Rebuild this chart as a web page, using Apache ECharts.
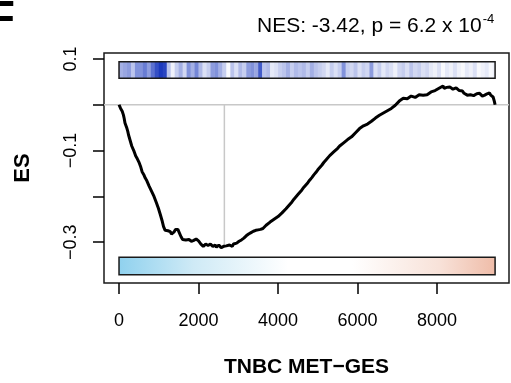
<!DOCTYPE html>
<html>
<head>
<meta charset="utf-8">
<script src="https://cdn.jsdelivr.net/npm/echarts@6/dist/echarts.min.js"></script>
<style>
  html, body { margin: 0; padding: 0; background: #fff; }
  #chart { width: 511px; height: 383px; }
</style>
</head>
<body>
<div id="chart"></div>
<script>
// running enrichment score: [rank in list, ES]
const esCurve = [
  [0, 0], [20, -0.002], [40, -0.008], [60, -0.006], [80, -0.014], [110, -0.022], [130, -0.030], [150, -0.040],
  [170, -0.038], [200, -0.052], [220, -0.058], [240, -0.066], [260, -0.064], [280, -0.078], [320, -0.090], [340, -0.088],
  [370, -0.100], [420, -0.112], [440, -0.110], [460, -0.118], [500, -0.125], [520, -0.124], [540, -0.134], [580, -0.146],
  [600, -0.144], [620, -0.152], [660, -0.160], [680, -0.158], [700, -0.166], [760, -0.178], [780, -0.176], [820, -0.189],
  [880, -0.200], [900, -0.199], [940, -0.214], [990, -0.226], [1010, -0.225], [1040, -0.240], [1080, -0.252], [1120, -0.266],
  [1160, -0.274], [1200, -0.277], [1230, -0.275], [1260, -0.279], [1290, -0.277], [1320, -0.282], [1350, -0.279], [1380, -0.278],
  [1420, -0.272], [1450, -0.273], [1480, -0.272], [1520, -0.280], [1560, -0.288], [1580, -0.286], [1600, -0.294], [1650, -0.298],
  [1680, -0.295], [1700, -0.297], [1730, -0.293], [1760, -0.294], [1790, -0.291], [1820, -0.298], [1850, -0.295], [1880, -0.296],
  [1910, -0.292], [1940, -0.293], [1970, -0.296], [2000, -0.297], [2030, -0.301], [2060, -0.304], [2090, -0.301], [2120, -0.309],
  [2150, -0.306], [2180, -0.304], [2210, -0.308], [2240, -0.307], [2270, -0.303], [2300, -0.304], [2330, -0.308], [2360, -0.309],
  [2390, -0.305], [2420, -0.306], [2450, -0.311], [2480, -0.310], [2510, -0.306], [2540, -0.308], [2570, -0.312], [2600, -0.313],
  [2630, -0.309], [2650, -0.312], [2680, -0.313], [2700, -0.308], [2730, -0.310], [2750, -0.311], [2780, -0.306], [2800, -0.305],
  [2830, -0.310], [2850, -0.309], [2880, -0.304], [2900, -0.304], [2930, -0.306], [2960, -0.302], [3020, -0.298], [3050, -0.299],
  [3080, -0.295], [3140, -0.291], [3170, -0.292], [3200, -0.286], [3260, -0.282], [3290, -0.283], [3320, -0.279], [3380, -0.276],
  [3440, -0.274], [3470, -0.275], [3500, -0.273], [3560, -0.272], [3620, -0.270], [3660, -0.268], [3700, -0.263], [3750, -0.261],
  [3800, -0.256], [3850, -0.254], [3900, -0.250], [3950, -0.248], [4000, -0.244], [4050, -0.241], [4100, -0.236], [4150, -0.233],
  [4200, -0.227], [4250, -0.223], [4300, -0.217], [4350, -0.212], [4400, -0.206], [4450, -0.202], [4500, -0.196], [4550, -0.191],
  [4600, -0.186], [4650, -0.180], [4700, -0.175], [4750, -0.170], [4800, -0.164], [4850, -0.159], [4900, -0.153], [4950, -0.148],
  [5000, -0.142], [5050, -0.138], [5100, -0.132], [5150, -0.126], [5200, -0.121], [5250, -0.117], [5300, -0.111], [5350, -0.108],
  [5400, -0.103], [5450, -0.099], [5500, -0.095], [5550, -0.090], [5600, -0.087], [5650, -0.083], [5700, -0.079], [5750, -0.076],
  [5800, -0.072], [5850, -0.070], [5900, -0.066], [5950, -0.061], [6000, -0.057], [6050, -0.052], [6100, -0.048], [6150, -0.046],
  [6200, -0.044], [6250, -0.042], [6300, -0.038], [6350, -0.036], [6400, -0.033], [6450, -0.029], [6500, -0.026], [6550, -0.023],
  [6600, -0.020], [6650, -0.018], [6700, -0.015], [6750, -0.013], [6800, -0.010], [6850, -0.008], [6900, -0.005], [6950, -0.001],
  [7000, 0.003], [7050, 0.008], [7100, 0.011], [7150, 0.014], [7200, 0.016], [7250, 0.013], [7300, 0.015], [7350, 0.019],
  [7400, 0.018], [7450, 0.016], [7500, 0.020], [7550, 0.022], [7600, 0.018], [7650, 0.021], [7700, 0.024], [7750, 0.022],
  [7800, 0.026], [7850, 0.028], [7900, 0.026], [7950, 0.031], [8000, 0.032], [8050, 0.036], [8100, 0.038], [8150, 0.041],
  [8180, 0.036], [8200, 0.034], [8240, 0.038], [8280, 0.036], [8320, 0.039], [8360, 0.037], [8400, 0.034], [8440, 0.035],
  [8480, 0.037], [8520, 0.034], [8560, 0.031], [8600, 0.029], [8640, 0.030], [8680, 0.025], [8720, 0.023], [8760, 0.021],
  [8800, 0.023], [8840, 0.022], [8880, 0.018], [8920, 0.020], [8960, 0.022], [9000, 0.024], [9040, 0.021], [9070, 0.025],
  [9100, 0.023], [9140, 0.019], [9170, 0.020], [9200, 0.021], [9230, 0.018], [9260, 0.024], [9290, 0.022], [9320, 0.026],
  [9350, 0.021], [9370, 0.020], [9390, 0.022], [9410, 0.017], [9440, 0.008], [9460, 0]
];

// density of gene-set hits along the ranked list, one value per 100 genes (0 = none, 1 = densest)
const hitDensity = [0.45, 0.5, 0.55, 0.35, 0.6, 0.6, 0.7, 0.55, 0.75, 0.9,
  1.0, 0.95, 0.35, 0.1, 0.3, 0.45, 0.25, 0.6, 0.45, 0.65,
  0.4, 0.2, 0.3, 0.55, 0.6, 0.45, 0.3, 0.05, 0.35, 0.2,
  0.4, 0.3, 0.55, 0.6, 0.5, 0.85, 0.35, 0.4, 0.15, 0.2,
  0.3, 0.35, 0.45, 0.3, 0.4, 0.35, 0.4, 0.3, 0.45, 0.35,
  0.3, 0.25, 0.15, 0.3, 0.2, 0.3, 0.6, 0.3, 0.25, 0.35,
  0.2, 0.3, 0.25, 0.55, 0.2, 0.3, 0.15, 0.25, 0.2, 0.1,
  0.25, 0.3, 0.2, 0.35, 0.25, 0.3, 0.2, 0.25, 0.15, 0.1,
  0.2, 0.05, 0.15, 0.1, 0.2, 0.1, 0.05, 0.15, 0.1, 0.2,
  0.05, 0.1, 0.15, 0.05, 0.1];

const binSize = 100;
const geneCount = 9460;
const peakRank = 2650;
const peakScore = -0.312;

const xTicks = [0, 2000, 4000, 6000, 8000];
const yTicks = [0.1, 0, -0.1, -0.2, -0.3];
const yLabels = [0.1, -0.1, -0.3];

// vertical extent (in ES units) of the two strips
const hitBar = [0.058, 0.094];
const rankBar = [-0.371, -0.333];

const font = 'Liberation Sans, Arial, Helvetica, sans-serif';

function blue(t) {
  const dark = [28, 58, 190];
  const k = Math.pow(t, 1.15);
  const c = dark.map(d => Math.round(255 - (255 - d) * k));
  return 'rgb(' + c.join(',') + ')';
}

const chart = echarts.init(document.getElementById('chart'));

chart.setOption({
  backgroundColor: '#ffffff',
  animation: false,
  title: [
    {
      left: 252,
      top: 8,
      text: '{a|NES: -3.42, p = 6.2 x 10}{b|-4}',
      textStyle: {
        rich: {
          a: { fontFamily: font, fontWeight: 'normal', fontSize: 21, color: '#000' },
          b: { fontFamily: font, fontWeight: 'normal', fontSize: 13, color: '#000', padding: [0, 0, 13, 1] }
        }
      }
    }
  ],
  // panel letter, cut by the left edge as in the figure
  graphic: [{
    type: 'text',
    x: -12,
    y: -2,
    style: { text: 'F', font: 'bold 44px "Liberation Sans"', fill: '#000' }
  }],
  grid: {
    left: 104,
    right: 2,
    top: 53,
    bottom: 91,
    show: true,
    borderColor: '#1a1a1a',
    borderWidth: 1.5
  },
  xAxis: {
    type: 'value',
    min: -378,
    max: 9810,
    axisLine: { show: false, onZero: false },
    splitLine: { show: false },
    axisTick: {
      inside: false,
      customValues: xTicks,
      length: 11,
      lineStyle: { color: '#000', width: 1.5 }
    },
    axisLabel: {
      customValues: xTicks,
      margin: 29,
      fontFamily: font,
      fontSize: 18,
      color: '#000',
      formatter: v => String(v)
    },
    name: 'TNBC MET\u2212GES',
    nameLocation: 'middle',
    nameGap: 74,
    nameTextStyle: { fontFamily: font, fontWeight: 'bold', fontSize: 21, color: '#000' }
  },
  yAxis: {
    type: 'value',
    min: -0.389,
    max: 0.113,
    axisLine: { show: false, onZero: false },
    splitLine: { show: false },
    axisTick: {
      inside: false,
      customValues: yTicks,
      length: 11,
      lineStyle: { color: '#000', width: 1.5 }
    },
    axisLabel: {
      customValues: yLabels,
      rotate: 90,
      margin: 24,
      fontFamily: font,
      fontSize: 18,
      color: '#000',
      formatter: v => String(v).replace('-', '\u2212')
    },
    name: 'ES',
    nameLocation: 'middle',
    nameRotate: 90,
    nameGap: 70,
    nameTextStyle: { fontFamily: font, fontWeight: 'bold', fontSize: 22, color: '#000' }
  },
  series: [
    {
      // zero line
      type: 'line',
      data: [[-378, 0], [9810, 0]],
      symbol: 'none',
      lineStyle: { color: '#c8c8c8', width: 1.5 },
      z: 1
    },
    {
      // position of the maximum deviation
      type: 'line',
      data: [[peakRank, 0], [peakRank, peakScore]],
      symbol: 'none',
      lineStyle: { color: '#c8c8c8', width: 1.5 },
      z: 1
    },
    {
      // hit-density strip
      type: 'custom',
      data: hitDensity.map((d, i) => [i, d]),
      renderItem: (params, api) => {
        const i = api.value(0);
        const p0 = api.coord([i * binSize, hitBar[1]]);
        const p1 = api.coord([Math.min((i + 1) * binSize, geneCount), hitBar[0]]);
        return {
          type: 'rect',
          shape: { x: p0[0], y: p0[1], width: p1[0] - p0[0] + 0.4, height: p1[1] - p0[1] },
          style: { fill: blue(api.value(1)) }
        };
      },
      z: 2
    },
    {
      // strip outlines and the ranked-metric gradient strip
      type: 'custom',
      data: [[0, geneCount]],
      renderItem: (params, api) => {
        const a0 = api.coord([0, hitBar[1]]);
        const a1 = api.coord([geneCount, hitBar[0]]);
        const b0 = api.coord([0, rankBar[1]]);
        const b1 = api.coord([geneCount, rankBar[0]]);
        return {
          type: 'group',
          children: [
            {
              type: 'rect',
              shape: { x: a0[0], y: a0[1], width: a1[0] - a0[0], height: a1[1] - a0[1] },
              style: { fill: 'none', stroke: '#1a1a1a', lineWidth: 1.5 }
            },
            {
              type: 'rect',
              shape: { x: b0[0], y: b0[1], width: b1[0] - b0[0], height: b1[1] - b0[1] },
              style: {
                fill: new echarts.graphic.LinearGradient(0, 0, 1, 0, [
                  { offset: 0, color: '#8fd1ee' },
                  { offset: 0.2, color: '#cfeaf6' },
                  { offset: 0.45, color: '#ffffff' },
                  { offset: 0.62, color: '#ffffff' },
                  { offset: 0.85, color: '#f8e2d9' },
                  { offset: 1, color: '#efbca8' }
                ]),
                stroke: '#1a1a1a',
                lineWidth: 1.5
              }
            }
          ]
        };
      },
      z: 3
    },
    {
      type: 'line',
      data: esCurve,
      symbol: 'none',
      lineStyle: { color: '#000', width: 3 },
      z: 5
    }
  ]
});
</script>
</body>
</html>
